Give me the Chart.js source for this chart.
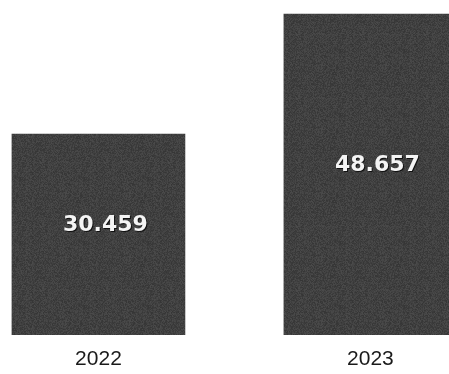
<!DOCTYPE html>
<html>
<head>
<meta charset="utf-8">
<script src="https://cdn.jsdelivr.net/npm/chart.js@4"></script>
<style>
  html, body { margin: 0; padding: 0; background: #ffffff; }
  #wrap { position: relative; width: 449px; height: 374px; }
</style>
</head>
<body>
<div id="wrap"><canvas id="revenueChart"></canvas></div>
<script>
// Chart data
const years = [2022, 2023];
const values = [30.459, 48.657];
const valueLabels = ['30.459', '48.657'];

// Grainy dark fill, like a scanned print
function makeGrain() {
  const tile = document.createElement('canvas');
  tile.width = 64;
  tile.height = 64;
  const tctx = tile.getContext('2d');
  const img = tctx.createImageData(64, 64);
  let seed = 7;
  for (let p = 0; p < 64 * 64; p++) {
    seed = (seed * 1103515245 + 12345) & 0x7fffffff;
    const g = 54 + (seed % 22);
    img.data[p * 4] = g;
    img.data[p * 4 + 1] = g;
    img.data[p * 4 + 2] = g;
    img.data[p * 4 + 3] = 255;
  }
  tctx.putImageData(img, 0, 0);
  return tctx.createPattern(tile, 'repeat');
}

// Draw value text inside each bar
const barValuePlugin = {
  id: 'barValues',
  afterDatasetsDraw(chart) {
    const ctx = chart.ctx;
    const meta = chart.getDatasetMeta(0);
    ctx.save();
    ctx.font = 'bold 22px "DejaVu Sans"';
    ctx.textAlign = 'center';
    ctx.textBaseline = 'middle';
    meta.data.forEach((bar, i) => {
      const { x, y, base } = bar.getProps(['x', 'y', 'base'], true);
      const cy = (y + base) / 2 - 9;
      ctx.fillStyle = '#111111';
      ctx.fillText(valueLabels[i], x + 8, cy + 1);
      ctx.fillStyle = '#f4f4f4';
      ctx.fillText(valueLabels[i], x + 7, cy);
    });
    ctx.restore();
  }
};

// Initialize chart
function initChart() {
  const ctx = document.getElementById('revenueChart').getContext('2d');

  const chartConfig = {
    type: 'bar',
    data: {
      datasets: [
        {
          data: years.map((yr, i) => ({ x: yr, y: values[i] })),
          backgroundColor: makeGrain(),
          borderWidth: 0,
          barThickness: 173
        }
      ]
    },
    options: {
      responsive: true,
      maintainAspectRatio: false,
      animation: false,
      layout: { padding: 0 },
      plugins: {
        legend: { display: false },
        tooltip: { enabled: false }
      },
      scales: {
        x: {
          type: 'linear',
          offset: false,
          min: 2021.638,
          max: 2023.289,
          grid: { display: false, drawTicks: false, offset: false },
          border: { display: false },
          afterBuildTicks: axis => {
            axis.ticks = years.map(v => ({ value: v }));
          },
          afterFit: axis => {
            axis.height = 39;
          },
          ticks: {
            padding: 12,
            color: '#1a1a1a',
            font: { family: '"Liberation Sans", Arial', size: 21 },
            callback: value => String(value)
          }
        },
        y: {
          display: false,
          min: 0,
          max: 50.8
        }
      }
    },
    plugins: [barValuePlugin]
  };

  return new Chart(ctx, chartConfig);
}

initChart();
</script>
</body>
</html>
